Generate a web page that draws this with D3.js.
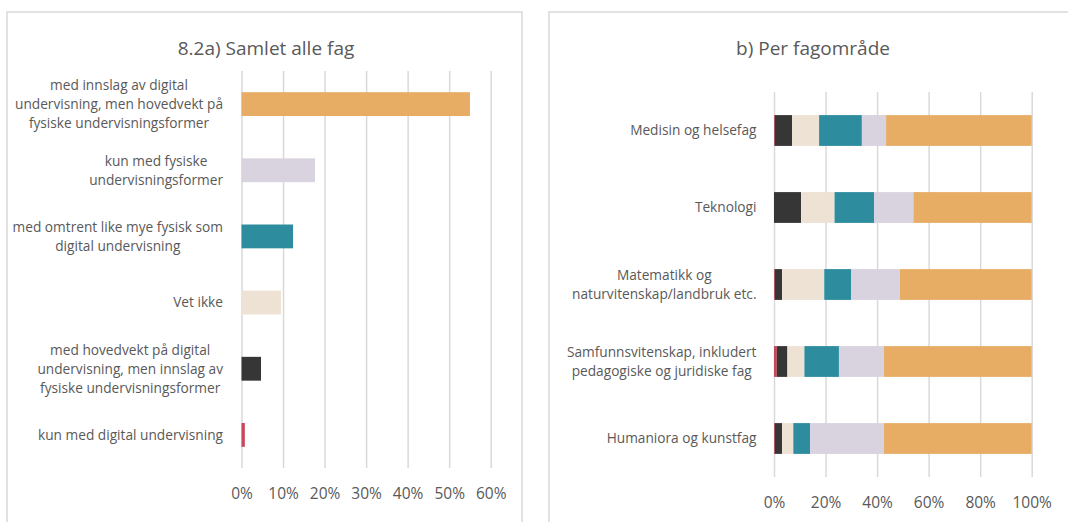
<!DOCTYPE html>
<html>
<head>
<meta charset="utf-8">
<script src="https://cdn.jsdelivr.net/npm/d3@7"></script>
<style>
  body { margin: 0; background: #fff; }
  text { font-family: "Open Sans", sans-serif; fill: #595959; }
</style>
</head>
<body>
<div class="canvas"></div>
<script>
const w = 1068;
const h = 522;

// answer categories, in stack order (first = leftmost segment / bottom bar)
const answers = [
  "kun med digital undervisning",
  "med hovedvekt på digital\nundervisning, men innslag av\nfysiske undervisningsformer",
  "Vet ikke",
  "med omtrent like mye fysisk som\ndigital undervisning",
  "kun med fysiske\nundervisningsformer",
  "med innslag av digital\nundervisning, men hovedvekt på\nfysiske undervisningsformer"
];
const colors = ["#c9475a", "#363636", "#ede2d3", "#2d8c9e", "#d9d2df", "#e7ad65"];

// a) share of all courses (%)
const totalValues = [0.8, 4.7, 9.5, 12.4, 17.7, 55.0];

// b) per field (%)
const fields = [
  "Medisin og helsefag",
  "Teknologi",
  "Matematikk og\nnaturvitenskap/landbruk etc.",
  "Samfunnsvitenskap, inkludert\npedagogiske og juridiske fag",
  "Humaniora og kunstfag"
];
const digitalOnly   = [0.3, 0.0, 0.3, 1.1, 0.3];
const mostlyDigital = [6.7, 10.5, 2.8, 4.1, 2.8];
const dontKnow      = [10.5, 13.0, 16.4, 6.6, 4.4];
const equalMix      = [16.6, 15.3, 10.5, 13.4, 6.5];
const physicalOnly  = [9.4, 15.3, 18.9, 17.5, 28.7];
const mostlyPhys    = [56.5, 45.9, 51.1, 57.3, 57.3];
const fieldSeries = [digitalOnly, mostlyDigital, dontKnow, equalMix, physicalOnly, mostlyPhys];

const leftTicks = [0, 10, 20, 30, 40, 50, 60];
const rightTicks = [0, 20, 40, 60, 80, 100];

const svg = d3.select(".canvas").append("svg").attr("width", w).attr("height", h);

// panel frames
svg.append("rect").attr("x", 7).attr("y", 12).attr("width", 515).attr("height", 530)
  .attr("fill", "none").attr("stroke", "#d9d9d9").attr("stroke-width", 1.5);
svg.append("rect").attr("x", 549).attr("y", 12).attr("width", 527).attr("height", 530)
  .attr("fill", "none").attr("stroke", "#d9d9d9").attr("stroke-width", 1.5);

// titles
svg.append("text").attr("x", 266).attr("y", 55).attr("text-anchor", "middle")
  .style("font-size", "19px").text("8.2a) Samlet alle fag");
svg.append("text").attr("x", 813).attr("y", 55).attr("text-anchor", "middle")
  .style("font-size", "19px").text("b) Per fagområde");

// multi-line labels, lines centred on each other, block right-aligned
function drawLabel(g, label, rightX, cy) {
  const lines = label.split("\n");
  const lh = 19;
  const t = g.append("text").style("font-size", "13.7px");
  lines.forEach((l, i) => {
    t.append("tspan").attr("x", 0).attr("y", cy + (i - (lines.length - 1) / 2) * lh).attr("dy", "0.35em").text(l);
  });
  const widths = [];
  t.selectAll("tspan").each(function () { widths.push(this.getComputedTextLength()); });
  const maxW = d3.max(widths);
  t.attr("text-anchor", "middle").selectAll("tspan").attr("x", rightX - maxW / 2);
}

function drawAxis(g, x, ticks, bottom, top) {
  const axis = d3.axisBottom(x)
    .tickValues(ticks)
    .tickFormat((d) => d + "%")
    .tickSizeInner(-(bottom - top))
    .tickSizeOuter(0)
    .tickPadding(19.5);
  const ax = g.append("g").attr("transform", `translate(0, ${bottom})`).call(axis);
  ax.select(".domain").remove();
  ax.selectAll(".tick line").attr("stroke", "#d9d9d9").attr("stroke-width", 1.5);
  ax.selectAll(".tick text").attr("fill", "#595959").style("font-size", "15.5px")
    .style("font-family", "'Open Sans', sans-serif");
}

/* left: a) all courses */
const leftOrder = d3.range(answers.length).reverse();
const xL = d3.scaleLinear().domain([0, 60]).range([241.5, 490.7]);
const yL = d3.scaleBand().domain(leftOrder).range([71, 468]).paddingInner(0.64).paddingOuter(0.32);
const gL = svg.append("g");
drawAxis(gL, xL, leftTicks, 468, 71);

gL.selectAll("rect.bar")
  .data(leftOrder)
  .enter()
  .append("rect")
  .attr("class", "bar")
  .attr("x", xL(0))
  .attr("y", (i) => yL(i))
  .attr("width", (i) => xL(totalValues[i]) - xL(0))
  .attr("height", yL.bandwidth())
  .attr("fill", (i) => colors[i]);

leftOrder.forEach((i) => drawLabel(gL, answers[i], 223, yL(i) + yL.bandwidth() / 2));

/* right: b) per field, stacked to 100% */
const xR = d3.scaleLinear().domain([0, 100]).range([774, 1031.7]);
const yR = d3.scaleBand().domain(fields).range([92, 477]).paddingInner(0.6).paddingOuter(0.3);
const gR = svg.append("g");
drawAxis(gR, xR, rightTicks, 477, 92);

const table = fields.map((f, j) => {
  const row = { field: f };
  answers.forEach((a, i) => (row[i] = fieldSeries[i][j]));
  return row;
});
const stacked = d3.stack().keys(d3.range(answers.length))(table);

gR.selectAll("g.layer")
  .data(stacked)
  .enter()
  .append("g")
  .attr("class", "layer")
  .attr("fill", (d, i) => colors[i])
  .selectAll("rect")
  .data((d) => d)
  .enter()
  .append("rect")
  .attr("x", (d) => xR(d[0]))
  .attr("y", (d) => yR(d.data.field))
  .attr("width", (d) => xR(d[1]) - xR(d[0]))
  .attr("height", yR.bandwidth());

fields.forEach((f) => drawLabel(gR, f, 756.5, yR(f) + yR.bandwidth() / 2));
</script>
</body>
</html>
